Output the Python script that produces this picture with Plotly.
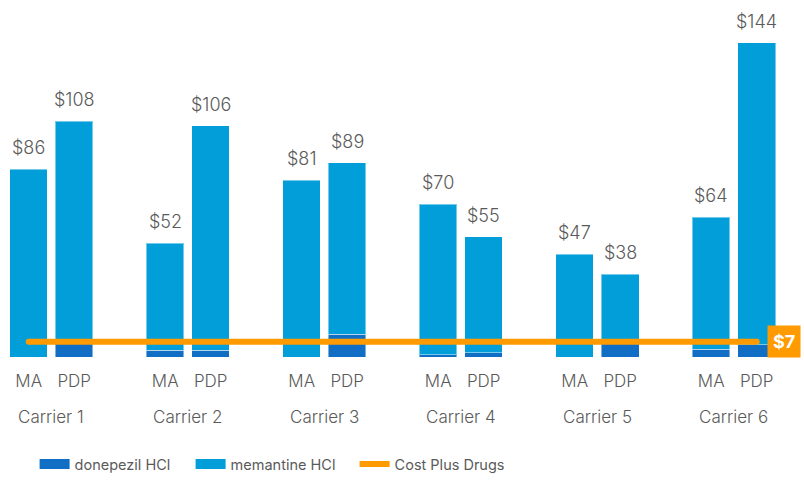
import plotly.graph_objects as go

carriers = ["Carrier 1", "Carrier 2", "Carrier 3", "Carrier 4", "Carrier 5", "Carrier 6"]
plan_types = ["MA", "PDP"]
# values per carrier: [MA, PDP]
totals = [[86, 108], [52, 106], [81, 89], [70, 55], [47, 38], [64, 144]]
donepezil = [[0, 6], [3, 3], [0, 10.5], [1, 2], [0, 6], [3.5, 5.5]]
cost_plus = 7

DARK = "#106FC5"
LIGHT = "#019ED9"
ORANGE = "#FF9A00"
GREY = "#5a5a5a"
FONT = "Inter"
W = 300

offsets = {"MA": -0.1667, "PDP": 0.1667}

xs, don, mem, tot, labels = [], [], [], [], []
for i, c in enumerate(carriers):
    for j, p in enumerate(plan_types):
        xs.append(i + offsets[p])
        don.append(donepezil[i][j])
        mem.append(totals[i][j] - donepezil[i][j])
        tot.append(totals[i][j])
        labels.append(p)

fig = go.Figure()
fig.add_trace(go.Bar(x=xs, y=don, width=0.275, marker=dict(color=DARK, line=dict(color="rgba(255,255,255,0.45)", width=1)),
                     name="donepezil HCl", showlegend=False, hoverinfo="skip"))
fig.add_trace(go.Bar(x=xs, y=mem, width=0.275, marker=dict(color=LIGHT, line=dict(color="rgba(255,255,255,0.45)", width=1)),
                     name="memantine HCl", showlegend=False, hoverinfo="skip"))

# legend proxies
fig.add_trace(go.Scatter(x=[None], y=[None], mode="lines", line=dict(color=DARK, width=10),
                         name="donepezil HCl", legend="legend"))
fig.add_trace(go.Scatter(x=[None], y=[None], mode="lines", line=dict(color=LIGHT, width=10),
                         name="memantine HCl", legend="legend2"))

fig.add_trace(go.Scatter(x=[xs[0], xs[-1]], y=[cost_plus, cost_plus], mode="lines+markers",
                         line=dict(color=ORANGE, width=6), marker=dict(color=ORANGE, size=6),
                         name="Cost Plus Drugs", hoverinfo="skip", legend="legend3"))

for x, t in zip(xs, tot):
    fig.add_annotation(x=x, y=t, text=f"${t}", showarrow=False, yanchor="bottom", yshift=9,
                       font=dict(family=FONT, size=18, color=GREY, weight=W))

for i, c in enumerate(carriers):
    fig.add_annotation(x=i, y=0, text=c, showarrow=False, yanchor="middle", yshift=-60,
                       font=dict(family=FONT, size=17, color=GREY, weight=W))

fig.add_annotation(xref="paper", x=783.5 / 804, xanchor="center", y=cost_plus, yanchor="middle",
                   text=f"<b>${cost_plus}</b>", showarrow=False,
                   bgcolor=ORANGE, borderpad=5, font=dict(family=FONT, size=18, color="white"))

def leg(xpx):
    return dict(orientation="h", x=(xpx - 5.4) / 804, xanchor="left", yref="container", y=-0.006,
                yanchor="bottom", font=dict(family=FONT, size=14.5, color=GREY), bgcolor="rgba(0,0,0,0)")

fig.update_layout(
    width=804, height=480,
    margin=dict(l=0, r=0, t=0, b=123),
    barmode="stack",
    plot_bgcolor="white", paper_bgcolor="white",
    showlegend=True,
    legend=leg(40), legend2=leg(196), legend3=leg(360),
    xaxis=dict(range=[-0.377, 5.513], tickvals=xs, ticktext=labels, showgrid=False, zeroline=False,
               showline=False, ticks="", tickfont=dict(family=FONT, size=17, color=GREY, weight=W),
               ticklabelstandoff=12),
    yaxis=dict(range=[0, 163.5], visible=False, showgrid=False, zeroline=False),
)

fig.write_html("out.html", config={"displayModeBar": False},
               post_script="document.body.style.margin='0';")
